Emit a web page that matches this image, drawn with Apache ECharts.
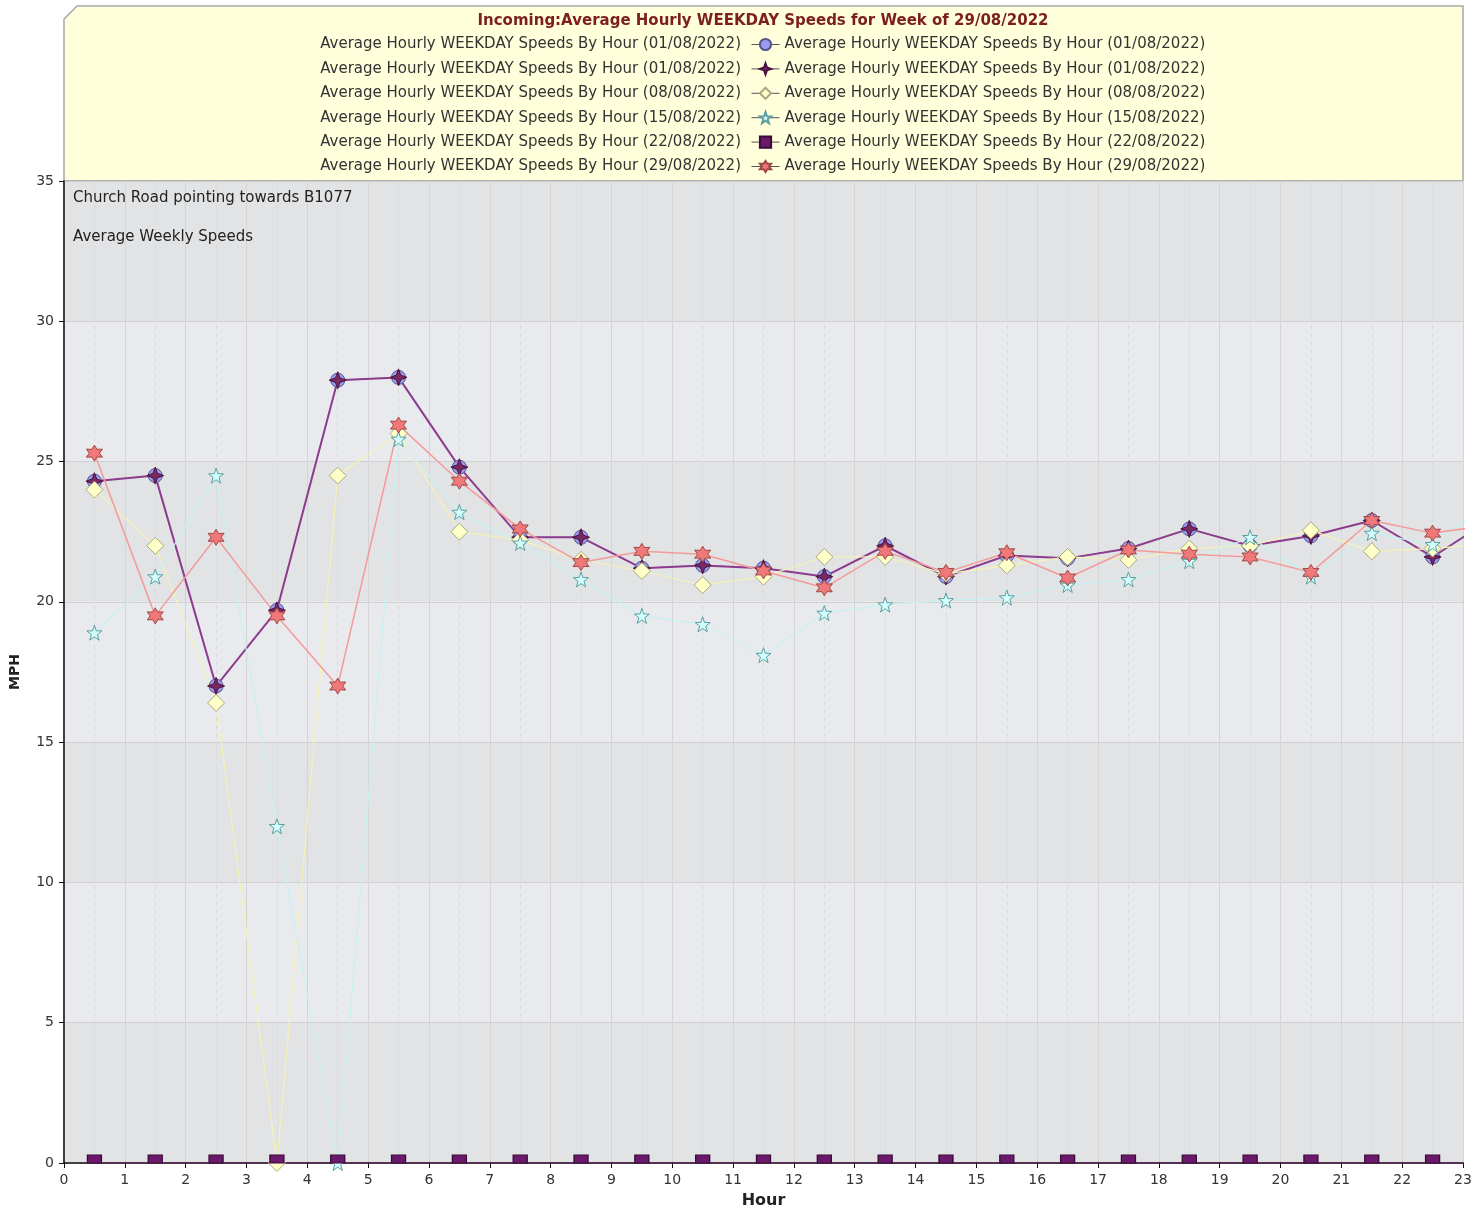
<!DOCTYPE html>
<html>
<head>
<meta charset="utf-8">
<script src="https://cdn.jsdelivr.net/npm/echarts@6/dist/echarts.min.js"></script>
<style>
  html, body { margin: 0; padding: 0; background: #fff; }
  #chart { width: 1475px; height: 1211px; }
</style>
</head>
<body>
<div id="chart"></div>
<script>
// hours (points sit at the middle of each hour; the last one is past the axis end)
const hours = [0.5, 1.5, 2.5, 3.5, 4.5, 5.5, 6.5, 7.5, 8.5, 9.5, 10.5, 11.5,
               12.5, 13.5, 14.5, 15.5, 16.5, 17.5, 18.5, 19.5, 20.5, 21.5, 22.5, 23.5];

const names = [
    'Average Hourly WEEKDAY Speeds By Hour (01/08/2022)',
    'Average Hourly WEEKDAY Speeds By Hour (01/08/2022)\u200b',
    'Average Hourly WEEKDAY Speeds By Hour (08/08/2022)',
    'Average Hourly WEEKDAY Speeds By Hour (15/08/2022)',
    'Average Hourly WEEKDAY Speeds By Hour (22/08/2022)',
    'Average Hourly WEEKDAY Speeds By Hour (29/08/2022)'
];

const week0108 = [24.3, 24.5, 17.0, 19.7, 27.9, 28.0, 24.8, 22.3, 22.3, 21.2, 21.3, 21.2,
                  20.9, 22.0, 20.9, 21.65, 21.55, 21.9, 22.6, 22.0, 22.35, 22.9, 21.6, 23.0];
const week0808 = [24.0, 22.0, 16.4, 0, 24.5, 26.0, 22.5, 22.2, 21.5, 21.1, 20.6, 20.9,
                  21.6, 21.6, 21.0, 21.3, 21.6, 21.5, 21.9, 22.0, 22.55, 21.8, 21.9, 22.1];
const week1508 = [18.9, 20.9, 24.5, 12.0, 0, 25.8, 23.2, 22.1, 20.8, 19.5, 19.2, 18.1,
                  19.6, 19.9, 20.05, 20.15, 20.6, 20.8, 21.45, 22.3, 20.9, 22.45, 22.05, 23.6];
const week2208 = [0, 0, 0, 0, 0, 0, 0, 0, 0, 0, 0, 0,
                  0, 0, 0, 0, 0, 0, 0, 0, 0, 0, 0, 0];
const week2908 = [25.3, 19.5, 22.3, 19.5, 17.0, 26.3, 24.3, 22.6, 21.4, 21.8, 21.7, 21.1,
                  20.5, 21.8, 21.05, 21.75, 20.85, 21.85, 21.7, 21.6, 21.05, 22.9, 22.45, 22.75];

const star4 = 'path://M0,-10 L2.6,-2.6 L10,0 L2.6,2.6 L0,10 L-2.6,2.6 L-10,0 L-2.6,-2.6 Z';
const star5 = 'path://M0,-10 L2.35,-3.24 L9.51,-3.09 L3.8,1.24 L5.88,8.09 L0,4 L-5.88,8.09 L-3.8,1.24 L-9.51,-3.09 L-2.35,-3.24 Z';
const star6 = 'path://M0,-10 L2.75,-4.76 L8.66,-5 L5.5,0 L8.66,5 L2.75,4.76 L0,10 L-2.75,4.76 L-8.66,5 L-5.5,0 L-8.66,-5 L-2.75,-4.76 Z';

function pairs(vals) {
    return hours.map((h, i) => [h, vals[i]]);
}

const font = 'DejaVu Sans';

function makeSeries(name, vals, symbol, size, fill, border, lineColor, lineWidth, extra) {
    return Object.assign({
        name: name,
        type: 'line',
        data: pairs(vals),
        symbol: symbol,
        symbolSize: size,
        showAllSymbol: true,
        clip: true,
        itemStyle: { color: fill, borderColor: border, borderWidth: 1 },
        lineStyle: { color: lineColor, width: lineWidth },
        emphasis: { disabled: true }
    }, extra || {});
}

let myChart = echarts.init(document.getElementById('chart'));

let option = {
    animation: false,
    backgroundColor: '#ffffff',
    textStyle: { fontFamily: font },
    graphic: [{
        type: 'polygon',
        z: -10,
        shape: { points: [[64, 19], [77, 6], [1463, 6], [1463, 181], [64, 181]] },
        style: { fill: '#ffffdc', stroke: '#a8a8a8', lineWidth: 1.5 }
    }],
    title: [{
        text: 'Incoming:Average Hourly WEEKDAY Speeds for Week of 29/08/2022',
        left: 763,
        top: 14,
        textAlign: 'center',
        padding: 0,
        textStyle: { fontFamily: font, fontSize: 15, fontWeight: 'bold', color: '#7b1f1f' }
    }, {
        text: 'Church Road pointing towards B1077',
        left: 73,
        top: 191,
        padding: 0,
        textStyle: { fontFamily: font, fontSize: 15, fontWeight: 'normal', color: '#222' }
    }, {
        text: 'Average Weekly Speeds',
        left: 73,
        top: 230,
        padding: 0,
        textStyle: { fontFamily: font, fontSize: 15, fontWeight: 'normal', color: '#222' }
    }],
    legend: [{
        orient: 'vertical',
        left: 751,
        top: 37,
        itemWidth: 28,
        itemHeight: 14,
        itemGap: 9.4,
        padding: 0,
        selectedMode: false,
        data: names,
        lineStyle: { color: '#555', width: 1 },
        textStyle: { fontFamily: font, fontSize: 15, color: '#333' }
    }, {
        orient: 'vertical',
        right: 729,
        top: 37,
        align: 'right',
        icon: 'none',
        itemWidth: 1,
        itemHeight: 14,
        itemGap: 9.4,
        padding: 0,
        selectedMode: false,
        data: names,
        textStyle: { fontFamily: font, fontSize: 15, color: '#333' }
    }],
    grid: {
        left: 64,
        right: 12,
        top: 181,
        bottom: 48,
        outerBoundsMode: 'none',
        containLabel: false,
        show: true,
        borderColor: '#a0a0a0',
        borderWidth: 1
    },
    xAxis: {
        type: 'value',
        min: 0,
        max: 23,
        interval: 1,
        name: 'Hour',
        nameLocation: 'middle',
        nameGap: 30,
        nameTextStyle: { fontFamily: font, fontSize: 16, fontWeight: 'bold', color: '#222' },
        axisLine: { show: true, lineStyle: { color: '#111', width: 1.5 } },
        axisTick: { show: true, length: 5, lineStyle: { color: '#111' } },
        axisLabel: { fontFamily: font, fontSize: 14, color: '#333', margin: 10 },
        splitLine: { show: true, lineStyle: { color: '#d4d4d4', width: 1 } },
        minorTick: { show: false, splitNumber: 2 },
        minorSplitLine: { show: true, lineStyle: { color: '#d8d8d8', type: [4, 4], width: 1 } }
    },
    yAxis: {
        type: 'value',
        min: 0,
        max: 35,
        interval: 5,
        name: 'MPH',
        nameLocation: 'middle',
        nameGap: 42,
        nameTextStyle: { fontFamily: font, fontSize: 14, fontWeight: 'bold', color: '#222' },
        axisLine: { show: true, lineStyle: { color: '#111', width: 1.5 } },
        axisTick: { show: true, length: 5, lineStyle: { color: '#111' } },
        axisLabel: { fontFamily: font, fontSize: 14, color: '#333', margin: 10 },
        splitLine: { show: true, lineStyle: { color: '#d0d0d0', width: 1 } },
        splitArea: { show: true, areaStyle: { color: ['#e2e3e5', '#e8eaed'] } }
    },
    series: [
        makeSeries(names[0], week0108, 'circle', 14, '#9a9af0', '#555588', '#8080c0', 1),
        makeSeries(names[1], week0108, star4, 17, '#7a2a62', '#4a1040', '#8e3c8e', 2),
        makeSeries(names[2], week0808, 'diamond', 17, '#ffffc8', '#a8a880', '#f6f2b4', 1.2),
        makeSeries(names[3], week1508, star5, 15, '#d2ffff', '#5e9e9e', '#c6f2f2', 1.2),
        makeSeries(names[4], week2208, 'rect', [14, 8], '#6b1a6b', '#3a0a3a', '#6b1a6b', 1,
            { symbolOffset: [0, '-50%'] }),
        makeSeries(names[5], week2908, star6, 16, '#f07878', '#a04848', '#f49a9a', 1.5)
    ]
};

myChart.setOption(option);
</script>
</body>
</html>
